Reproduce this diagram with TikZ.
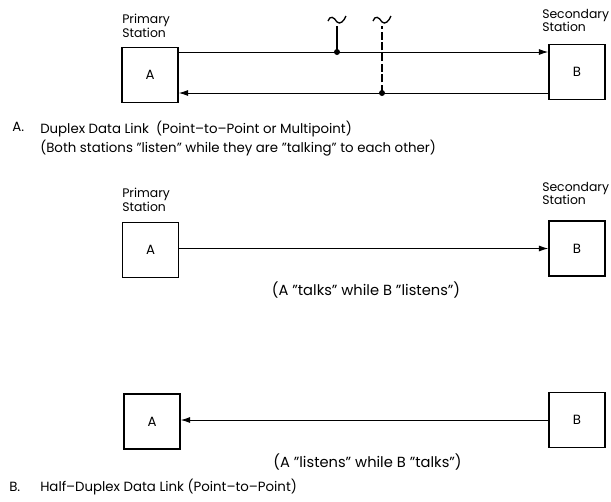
\documentclass[tikz,border=0pt]{standalone}
\usepackage{fontspec}
\setmainfont{Poppins}
\usetikzlibrary{arrows.meta}
\tikzset{
  station/.style={draw, line width=1.1pt, minimum width=42pt, minimum height=41pt, inner sep=0pt},
  link/.style={line width=0.7pt, -{Latex[length=7pt,width=4.5pt]}},
  lbl/.style={anchor=north west, align=left, inner sep=0pt, font=\fontsize{9.3}{10}\selectfont},
  txt/.style={inner sep=0pt, font=\fontsize{10}{10}\selectfont},
  note/.style={inner sep=0pt, font=\fontsize{11}{11}\selectfont},
  tapdot/.style={fill, circle, inner sep=0pt, minimum size=4.5pt}
}
\begin{document}
\begin{tikzpicture}[x=0.75pt, y=-0.75pt]
  \useasboundingbox (0,0) rectangle (611,501);
  % Duplex link
  \node[lbl] (prim1) at (122,14) {Primary\\Station};
  \node[lbl] (sec1) at (542,9) {Secondary\\Station};
  \node[station] (A1) at (150,75) {A};
  \node[station] (B1) at (577,72) {B};
  \coordinate (t1) at (337,52);
  \coordinate (t2) at (382,93);
  \draw[link] (A1.east |- t1) -- (B1.west |- t1);
  \draw[link] (B1.west |- t2) -- (A1.east |- t2);
  % Taps
  \coordinate (s1) at (337,26);
  \coordinate (s2) at (382,26);
  \draw[line width=0.9pt] (t1) -- (s1);
  \draw[line width=0.9pt, dash pattern=on 6pt off 2pt] (t2) -- (s2);
  \node[tapdot] (d1) at (t1) {};
  \node[tapdot] (d2) at (t2) {};
  \foreach \tx in {337,382}
    \draw[line width=1pt] (\tx-9,21) .. controls (\tx-7,15) and (\tx-3,17) .. (\tx,22)
      .. controls (\tx+3,25) and (\tx+7,21) .. (\tx+9,16);
  \node[txt, anchor=west] (capA) at (12,127) {A.};
  \node[txt, anchor=north west, align=left] (capAtxt) at (40,121) {Duplex Data Link\ \ (Point--to--Point or Multipoint)\\[1pt]
    (Both stations "listen" while they are "talking" to each other)};
  % Half-duplex, A talks
  \node[lbl] (prim2) at (122,188) {Primary\\Station};
  \node[lbl] (sec2) at (542,182) {Secondary\\Station};
  \node[station] (A2) at (150.5,250) {A};
  \node[station] (B2) at (577,248.5) {B};
  \draw[link] (A2.east |- B2.west) -- (B2.west);
  \node[note] (talk) at (366,290) {(A "talks" while B "listens")};
  % Half-duplex, B talks
  \node[station] (A3) at (152,421.5) {A};
  \node[station] (B3) at (577,420) {B};
  \draw[link] (B3.west) -- (A3.east |- B3.west);
  \node[note] (listen) at (367.5,462) {(A "listens" while B "talks")};
  \node[txt, anchor=west] (capB) at (9,487) {B.};
  \node[txt, anchor=west] (capBtxt) at (40,487) {Half--Duplex Data Link (Point--to--Point)};
\end{tikzpicture}
\end{document}
